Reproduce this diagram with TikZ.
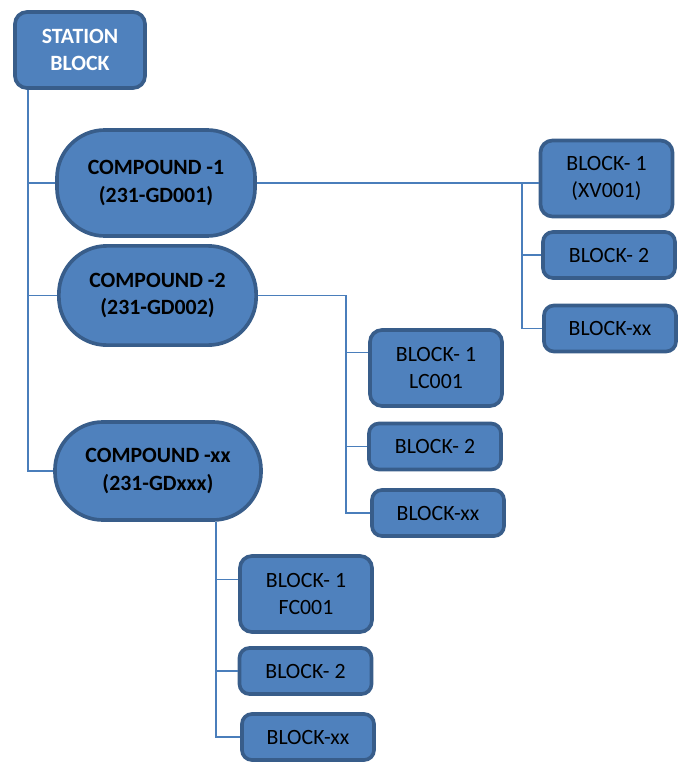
\documentclass[tikz,border=0pt]{standalone}
\usepackage{fontspec}
\setmainfont{Carlito}
\usepackage{tikz}
\usetikzlibrary{positioning,calc}
\usepackage{xcolor}
\definecolor{boxblue}{HTML}{4F81BD}
\definecolor{rimblue}{HTML}{385D8A}
\definecolor{wireblue}{HTML}{4A7EBB}

\begin{document}
\begin{tikzpicture}[
    x=0.025cm, y=-0.025cm,
    base/.style={draw=rimblue, fill=boxblue, line width=2.6pt, align=center, inner sep=2pt, font=\fontsize{15.5}{19.5}\selectfont},
    station/.style={base, rounded corners=0.3cm, minimum width=3.25cm, minimum height=1.9cm, text=white, font=\fontsize{15.5}{19.5}\selectfont\bfseries},
    compound/.style={base, rounded corners=1.2cm, font=\fontsize{15.5}{19.5}\selectfont\bfseries},
    tallblock/.style={base, rounded corners=0.3cm, minimum width=3.3cm, minimum height=1.9cm},
    shortblock/.style={base, rounded corners=0.25cm, minimum width=3.3cm, minimum height=1.15cm},
    link/.style={draw=wireblue, line width=1.1pt}
]
\useasboundingbox (0,0) rectangle (683,763);

% station and compounds
\node[station] (station) at (80,50) {STATION\\BLOCK};
\node[compound, minimum width=4.95cm, minimum height=2.65cm] (c1) at (156,183) {COMPOUND -1\\(231-GD001)};
\node[compound, minimum width=4.93cm, minimum height=2.48cm] (c2) at (157.5,295.5) {COMPOUND -2\\(231-GD002)};
\node[compound, minimum width=5.15cm, minimum height=2.45cm] (cxx) at (158,471) {COMPOUND -xx\\(231-GDxxx)};

% blocks
\node[tallblock] (r1) at (606.5,178.5) {BLOCK- 1\\(XV001)};
\node[shortblock] (r2) at (609,255) {BLOCK- 2};
\node[shortblock] (r3) at (610,328.5) {BLOCK-xx};
\node[tallblock] (m1) at (436,368) {BLOCK- 1\\LC001};
\node[shortblock] (m2) at (435,446.5) {BLOCK- 2};
\node[shortblock] (m3) at (438,513) {BLOCK-xx};
\node[tallblock] (b1) at (306,594) {BLOCK- 1\\FC001};
\node[shortblock] (b2) at (305.5,671) {BLOCK- 2};
\node[shortblock] (b3) at (308,737) {BLOCK-xx};

% bus lines
\coordinate (t0) at (28,0);
\coordinate (bus1) at (522,0);
\coordinate (bus2) at (346,0);
\coordinate (bus3) at (216,0);

\draw[link] (station.south -| t0) |- (cxx.west);
\draw[link] (t0 |- c1.west) -- (c1.west);
\draw[link] (t0 |- c2.west) -- (c2.west);

\draw[link] (c1.east) -- (r1.west |- c1.east);
\draw[link] (bus1 |- c1.east) |- (r3.west);
\draw[link] (bus1 |- r2.west) -- (r2.west);

\draw[link] (c2.east) -| (bus2 |- m3.west) -- (m3.west);
\draw[link] (bus2 |- m1.167) -- (m1.167);
\draw[link] (bus2 |- m2.west) -- (m2.west);

\draw[link] (cxx.south -| bus3) |- (b3.west);
\draw[link] (bus3 |- b1.168) -- (b1.168);
\draw[link] (bus3 |- b2.west) -- (b2.west);
\end{tikzpicture}
\end{document}
